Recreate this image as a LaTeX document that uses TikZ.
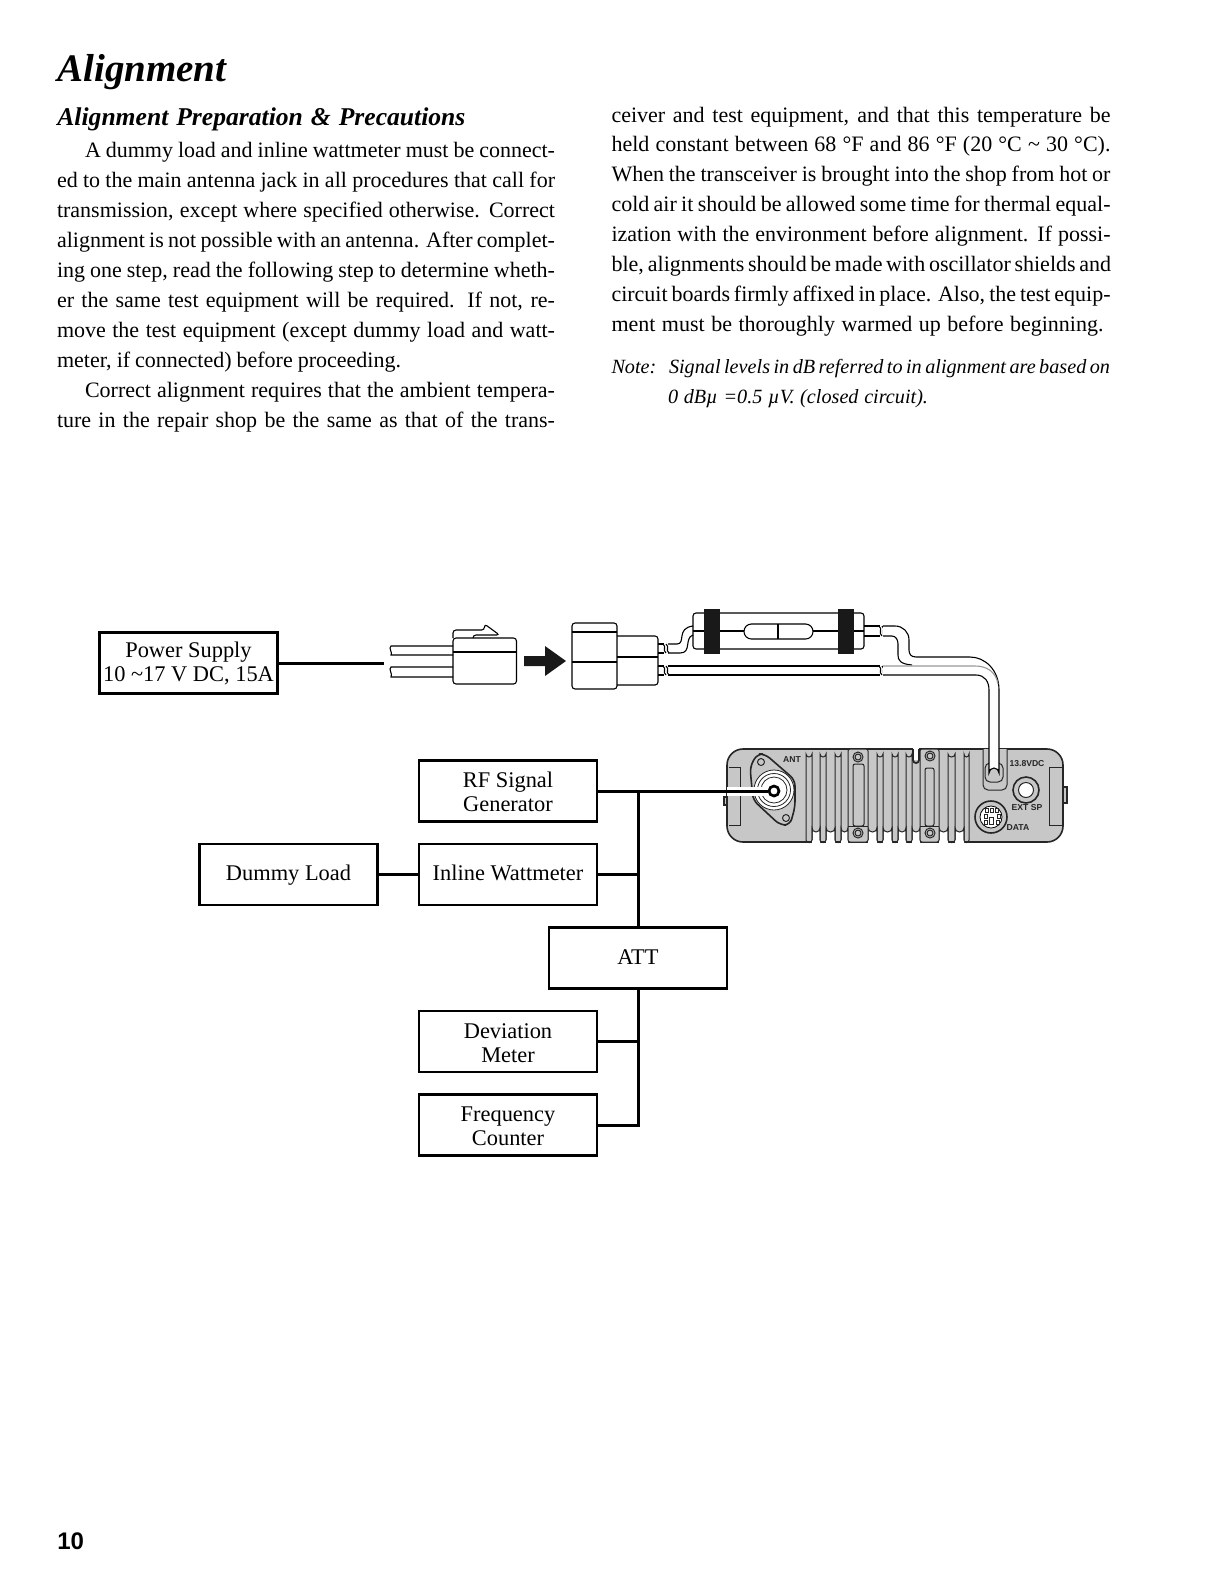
\documentclass[tikz,border=0pt]{standalone}
\usepackage{fontspec}
\setmainfont{Liberation Serif}
\newfontfamily\pnum{Liberation Sans}
\newdimen\pxu \pxu=.5pt
\newcommand\bl[5]{\node[bodyline] (#1) at (#2,#3) {\makebox[#4\pxu][s]{#5}};}
\newcommand\sqg[3]{\draw[thin line] (#1,#2) .. controls (#1+4,#2+3) and (#1-1,#3-3) .. (#1+3,#3);
 \draw[thin line] (#1+3,#2) .. controls (#1+7,#2+3) and (#1+2,#3-3) .. (#1+6,#3);}
\newcommand\tl{\rule{0pt}{8.6pt}}
\tikzset{
 x=.5pt,y=-.5pt,
 thin line/.style={line width=.55pt,black},
 bodyline/.style={anchor=base west,inner sep=0pt,outer sep=0pt,font=\fontsize{11}{15}\selectfont},
 notefont/.style={bodyline,font=\fontsize{10.1}{15}\selectfont\itshape},
 box/.style={draw,line width=1.4pt,minimum width=89pt,minimum height=30.5pt,inner sep=0pt,align=center,font=\fontsize{11.2}{12}\selectfont},
 boxone/.style={box,align=none,text height=7.6pt,text depth=1.2pt},
 conn/.style={line width=1.5pt},
 panel/.style={inner sep=0pt,font=\pnum\bfseries\fontsize{4.3}{4.3}\selectfont,text=black!85},
 gbody/.style={fill=black!22,draw=black!85,line width=.8pt},
}
\begin{document}
\begin{tikzpicture}
\useasboundingbox[fill=white] (0,0) rectangle (1225,1585);
% headings
\node[anchor=base west,inner sep=0pt,font=\fontsize{19.5}{20}\selectfont\bfseries\itshape] (title) at (57,81) {Alignment};
\node[anchor=base west,inner sep=0pt,font=\fontsize{12.8}{15}\selectfont\bfseries\itshape] (sub) at (57,125) {\makebox[408\pxu][s]{Alignment Preparation \& Precautions}};
% left column
\bl{a1}{85}{157.5}{470}{A dummy load and inline wattmeter must be connect-}
\bl{a2}{57}{187.5}{498}{ed to the main antenna jack in all procedures that call for}
\bl{a3}{57}{217.5}{498}{transmission, except where specified otherwise. Correct}
\bl{a4}{57}{247.5}{498}{alignment is not possible with an antenna. After complet-}
\bl{a5}{57}{277.5}{498}{ing one step, read the following step to determine wheth-}
\bl{a6}{57}{307.5}{498}{er the same test equipment will be required. If not, re-}
\bl{a7}{57}{337.5}{498}{move the test equipment (except dummy load and watt-}
\bl{a8}{57}{367.5}{344}{meter, if connected) before proceeding.}
\bl{a9}{85}{397.5}{470}{Correct alignment requires that the ambient tempera-}
\bl{a10}{57}{427.5}{498}{ture in the repair shop be the same as that of the trans-}
% right column
\bl{b1}{611.5}{122}{499}{ceiver and test equipment, and that this temperature be}
\bl{b2}{611.5}{151.5}{499}{held constant between 68 °F and 86 °F (20 °C \textasciitilde{} 30 °C).}
\bl{b3}{611.5}{181.5}{499}{When the transceiver is brought into the shop from hot or}
\bl{b4}{611.5}{211.5}{499}{cold air it should be allowed some time for thermal equal-}
\bl{b5}{611.5}{241.5}{499}{ization with the environment before alignment. If possi-}
\bl{b6}{611.5}{271.5}{499}{ble, alignments should be made with oscillator shields and}
\bl{b7}{611.5}{301.5}{499}{circuit boards firmly affixed in place. Also, the test equip-}
\bl{b8}{611.5}{331.5}{492}{ment must be thoroughly warmed up before beginning.}
\node[notefont] (n0) at (611.5,373.5) {Note:};
\node[notefont] (n1) at (669,373.5) {\makebox[441\pxu][s]{Signal levels in dB referred to in alignment are based on}};
\node[notefont] (n2) at (668,403.5) {\makebox[260\pxu][s]{0 dBµ =0.5 µV. (closed circuit).}};
% boxes
\node[box] (ps) at (188.5,663) {\tl Power Supply\\10 \textasciitilde17 V DC, 15A};
\node[box] (rf) at (508,791) {\tl RF Signal\\Generator};
\node[box,text height=7.6pt,text depth=1.2pt,align=flush center] (iw) at (508,874.5) {Inline Wattmeter};
\node[box,text height=7.6pt,text depth=1.2pt,align=flush center] (dl) at (288.5,874.5) {Dummy Load};
\node[box,text height=7.6pt,text depth=1.2pt,align=flush center] (att) at (638,958) {ATT};
\node[box] (dm) at (508,1041.5) {\tl Deviation\\Meter};
\node[box] (fc) at (508,1125) {\tl Frequency\\Counter};
\coordinate (plug) at (384,663);
\draw[conn] (ps.east) -- (plug);
\draw[conn] (rf.east -| att.north) -- (att.north);
\draw[conn] (iw.east) -- (iw.east -| att.north);
\draw[conn] (dl.east) -- (iw.west);
\draw[conn] (att.south) -- (fc.east -| att.south) -- (fc.east);
\draw[conn] (dm.east) -- (dm.east -| att.south);
% plug
\begin{scope}[thin line]
\draw (453,646) -- (391,646) .. controls (388,648) and (393,653) .. (391,655) -- (453,655);
\draw (453,667) -- (391,667) .. controls (388,669) and (393,674) .. (391,677) -- (453,677);
\draw[rounded corners=1.5pt] (453,638) -- (453,630) -- (484.5,630) -- (484.5,624) -- (499.5,635) -- (473,635) -- (473,638);
\draw[rounded corners=1.5pt] (453,638) rectangle (516.5,684);
\draw (453,652) -- (516.5,652);
% big arrow
\fill[black!90] (524,656) -- (545,656) -- (545,646) -- (566,661) -- (545,676) -- (545,666) -- (524,666) -- cycle;
% socket
\draw[rounded corners=1.5pt] (572,623) rectangle (617,689);
\draw (572,632) -- (617,632);
\draw (572,662) -- (617,662);
\draw[rounded corners=1.5pt] (617,636) -- (658,636) -- (658,685) -- (617,685);
\draw (617,657) -- (658,657);
\draw (658,644) -- (664,644) (658,653) -- (664,653) (658,666) -- (664,666) (658,675) -- (664,675);
\end{scope}
\sqg{663}{644}{653}
\sqg{663}{666}{675}
% fuse
\begin{scope}[thin line]
\draw (668,644) -- (677,644) .. controls (686,644) and (676,628) .. (693,626);
\draw (668,653) -- (680,653) .. controls (692,653) and (684,638) .. (693,635);
\draw[rounded corners=1.5pt] (693,613) rectangle (864,649);
\draw (693,631) -- (744,631) (813,631) -- (864,631);
\draw[rounded corners=3.7pt] (744,624) rectangle (813,639);
\draw (778,624) -- (778,639);
\fill[black!90] (704,609) rectangle (720,654);
\fill[black!90] (838,609) rectangle (854,654);
\draw (864,626) -- (880,626) (864,636) -- (880,636);
\draw (668,666) -- (880,666) (668,675) -- (880,675);
\end{scope}
\sqg{879}{626}{636}
\sqg{879}{666}{675}
% device
\draw[gbody] (724,797) rectangle (728,805);
\draw[gbody] (1062,787) rectangle (1067,803);
\draw[gbody,rounded corners=8pt] (727,749) -- (1063,749) -- (1063,842) -- (727,842) -- cycle;
\begin{scope}[line width=.5pt,black!85]
\draw (740,767) -- (740,825) -- (729,825) (740,767) -- (729,767);
\draw (1049,767) -- (1049,825) -- (1062,825) (1049,767) -- (1062,767);
% white gaps between fins at the bottom
\foreach \a/\b in {812/820,826/835,841/848,868/877,883/892,898/906,912/920,939/948,955/964}{
 \fill[white] (\a,843.5) -- (\a,828) arc[start angle=180,end angle=0,x radius={(\b-\a)/2},y radius=4] -- (\b,843.5) -- cycle;
 \draw (\a,840) -- (\a,828) arc[start angle=180,end angle=0,x radius={(\b-\a)/2},y radius=4] -- (\b,840);
}
% fins
\foreach \a/\b in {806/812,820/826,835/841,877/883,892/898,906/912,948/955,964/969}{
 \draw (\a,840) -- (\a,754) arc[start angle=180,end angle=0,x radius={(\b-\a)/2},y radius=3] -- (\b,840);
 \draw (\a,840) .. controls (\a,843.5) and (\b,843.5) .. (\b,840);
}
% top notch
\fill[white] (913,748) rectangle (919,760);
\draw[line width=.9pt] (913,749) -- (913,760) arc[start angle=180,end angle=360,x radius=3,y radius=-3] -- (919,749);
% blocks
\draw[fill=black!22,rounded corners=1pt] (848,749) rectangle (868,842);
\draw[fill=black!22,rounded corners=1pt] (920,749) rectangle (939,842);
\draw[rounded corners=1pt] (853,764) rectangle (864,826);
\draw[rounded corners=1pt] (925,768) rectangle (934,826);
\draw (848,826) -- (868,826) (920,826) -- (939,826);
\foreach \p in {(858,757),(858,833),(930,756),(930,833)}{
 \draw \p circle[radius=5];
 \draw \p circle[radius=3];
}
% ANT plate
\draw[line width=.8pt,fill=black!22,rounded corners=3pt] (757,754) -- (765,754) -- (795,780) -- (795,807) -- (790,825) -- (780,825) -- (753,800) -- (750,767) -- cycle;
\draw (761,762) circle[radius=3.5];
\draw (786,818) circle[radius=3.5];
\foreach \r in {20,16.5,13}{\draw[fill=white,line width=.4pt] (774,790) circle[radius=\r];}
% 13.8 VDC
\draw[fill=black!22,rounded corners=2.5pt] (983,749) -- (983,790) -- (1007,790) -- (1007,749);
\draw[rounded corners=2.5pt] (985,763) rectangle (1003,782);
% EXT SP
\draw[line width=.8pt] (1026,790) circle[radius=13];
\draw[fill=white] (1026,790) circle[radius=7.5];
% DATA
\draw[line width=.8pt] (991,817) circle[radius=16];
\draw[fill=white,draw=black,line width=.4pt] (991,817) circle[radius=11];
\foreach \x/\y/\w/\h in {985/808/3/4,990/808/3/4,995/808/3/4,984/814/3/4,997/814/3/4,984/820/3/4,989/817/4/7,996/820/3/4}{
 \draw[line width=.35pt] (\x,\y) rectangle ++(\w,\h);
}
\end{scope}
\node[panel] (lant) at (792,760) {ANT};
\node[panel] (lvdc) at (1027,764) {13.8VDC};
\node[panel] (lext) at (1027,808) {EXT SP};
\node[panel] (ldata) at (1018,828) {DATA};
% cables
\begin{scope}[thin line]
\fill[white] (883,626) -- (895,626) .. controls (903,626) and (909,632) .. (909,640) -- (909,650) .. controls (909,654) and (911,657) .. (916,657) -- (970,657) .. controls (985,657) and (999,670) .. (999,690) -- (999,773) arc[start angle=0,end angle=180,x radius=5,y radius=-5] -- (989,690) .. controls (989,682) and (985,675) .. (976,675) -- (883,675) -- (883,666) -- (905,666) .. controls (900,664) and (898,660) .. (898,655) -- (898,644) .. controls (898,640) and (896,636) .. (892,636) -- (883,636) -- cycle;
\draw (883,626) -- (895,626) .. controls (903,626) and (909,632) .. (909,640) -- (909,650) .. controls (909,654) and (911,657) .. (916,657) -- (970,657) .. controls (985,657) and (999,670) .. (999,690) -- (999,773) arc[start angle=0,end angle=180,x radius=5,y radius=-5] -- (989,690) .. controls (989,682) and (985,675) .. (976,675) -- (883,675);
\draw (883,636) -- (892,636) .. controls (896,636) and (898,640) .. (898,644) -- (898,655) .. controls (898,660) and (900,664) .. (912,665);
\draw[black!40] (883,666) -- (975,666) .. controls (987,666) and (996,672) .. (998,684);
\end{scope}
% antenna jack and cable
\fill[white] (727,786.5) rectangle (770,795.5);
\node[draw,circle,line width=1.35pt,fill=white,minimum size=5pt,inner sep=0pt] (jack) at (774,791) {};
\draw[conn] (rf.east) -- (jack.west);
% page number
\node[anchor=base west,inner sep=0pt,font=\pnum\bfseries\fontsize{12}{12}\selectfont] (pg) at (57,1549) {10};
\end{tikzpicture}
\end{document}
